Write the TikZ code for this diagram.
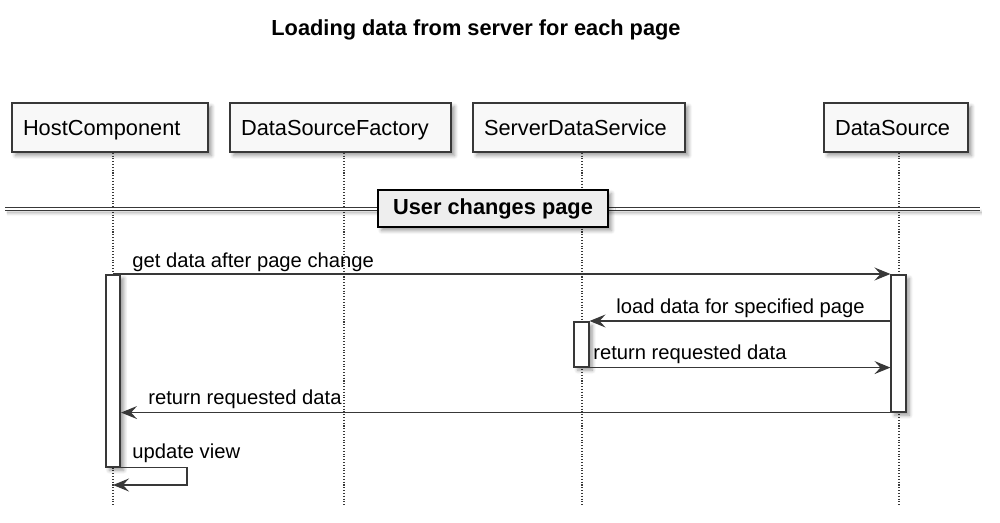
\documentclass[tikz,border=0pt]{standalone}
\usepackage{fontspec}
\setmainfont{Liberation Sans}
\usetikzlibrary{arrows.meta, positioning, shadows.blur}
\definecolor{ink}{HTML}{383838}
\definecolor{boxfill}{HTML}{F8F8F8}
\definecolor{divfill}{HTML}{EEEEEE}
\tikzset{
  actor/.style ={draw=ink, line width=0.9pt, fill=boxfill, minimum height=0.98cm,
                 inner ysep=0pt, inner xsep=0.22cm, align=left,
                 text height=10pt, text depth=1.4pt,
                 font=\fontsize{12.4}{14}\selectfont,
                 blur shadow={shadow xshift=2pt, shadow yshift=-2pt, shadow blur steps=6}},
  actbar/.style={draw=ink, line width=0.9pt, fill=white, minimum width=0.29cm,
                 inner sep=0pt, anchor=north,
                 blur shadow={shadow xshift=2pt, shadow yshift=-2pt, shadow blur steps=6}},
  life/.style  ={draw=ink, densely dotted, line width=0.6pt},
  msg/.style   ={draw=ink, line width=0.7pt, -{Stealth[length=3.2mm,width=2.6mm,inset=1.2mm]}},
  msglabel/.style={font=\fontsize{11.5}{13}\selectfont, inner sep=0pt, anchor=base west},
  divider/.style={draw=ink, line width=0.75pt, double=white, double distance=1.1pt},
  divbox/.style={draw=black, line width=1.6pt, fill=divfill, minimum width=4.6cm,
                 minimum height=0.74cm, font=\bfseries\fontsize{12.4}{14}\selectfont,
                 blur shadow={shadow xshift=2pt, shadow yshift=-2pt, shadow blur steps=6}}
}
\begin{document}
\begin{tikzpicture}[x=0.02cm, y=-0.02cm]
  \useasboundingbox (0,0) rectangle (1000,523);
  \node[font=\bfseries\fontsize{12.4}{14}\selectfont] (title) at (476,30)
    {Loading data from server for each page};

  % participants
  \node[actor, text width=3.48cm] (host)    at (110,127.5) {HostComponent};
  \node[actor, text width=3.98cm] (factory) at (340.5,127.5) {DataSourceFactory};
  \node[actor, text width=3.80cm] (server)  at (579,127.5) {ServerDataService};
  \node[actor, text width=2.44cm] (source)  at (896,127.5) {DataSource};

  % lifelines
  \coordinate (hostEnd)    at (113,505);
  \coordinate (factoryEnd) at (344,505);
  \coordinate (serverEnd)  at (582,505);
  \coordinate (sourceEnd)  at (899,505);
  \draw[life] (host.south -| hostEnd)       -- (hostEnd);
  \draw[life] (factory.south -| factoryEnd) -- (factoryEnd);
  \draw[life] (server.south -| serverEnd)   -- (serverEnd);
  \draw[life] (source.south -| sourceEnd)   -- (sourceEnd);

  % divider
  \coordinate (divL) at (5,209);
  \coordinate (divR) at (980,209);
  \draw[divider, blur shadow={shadow xshift=1pt, shadow yshift=-2pt}] (divL) -- (divR);
  \node[divbox] (change) at (493,208.5) {User changes page};

  % activations
  \node[actbar, minimum height=3.84cm] (actHost)   at (113,274) {};
  \node[actbar, minimum height=2.74cm] (actSource) at (898.5,274) {};
  \node[actbar, minimum height=0.90cm] (actServer) at (581.5,321) {};

  % messages
  \draw[msg] (actHost.north) -- (actSource.north west);
  \node[msglabel] (m1) at (132,268) {get data after page change};

  \draw[msg] (actSource.west |- actServer.north) -- (actServer.north east);
  \node[msglabel] (m2) at (616,314) {load data for specified page};

  \draw[msg] (actServer.south east) -- (actSource.west |- actServer.south);
  \node[msglabel] (m3) at (593,359) {return requested data};

  \draw[msg] (actSource.south west) -- (actHost.east |- actSource.south);
  \node[msglabel] (m4) at (148,404) {return requested data};

  \coordinate (selfTurn) at (187,485);
  \draw[msg] (actHost.south east) -| (selfTurn) -- (selfTurn -| hostEnd);
  \node[msglabel] (m5) at (132,458) {update view};
\end{tikzpicture}
\end{document}
